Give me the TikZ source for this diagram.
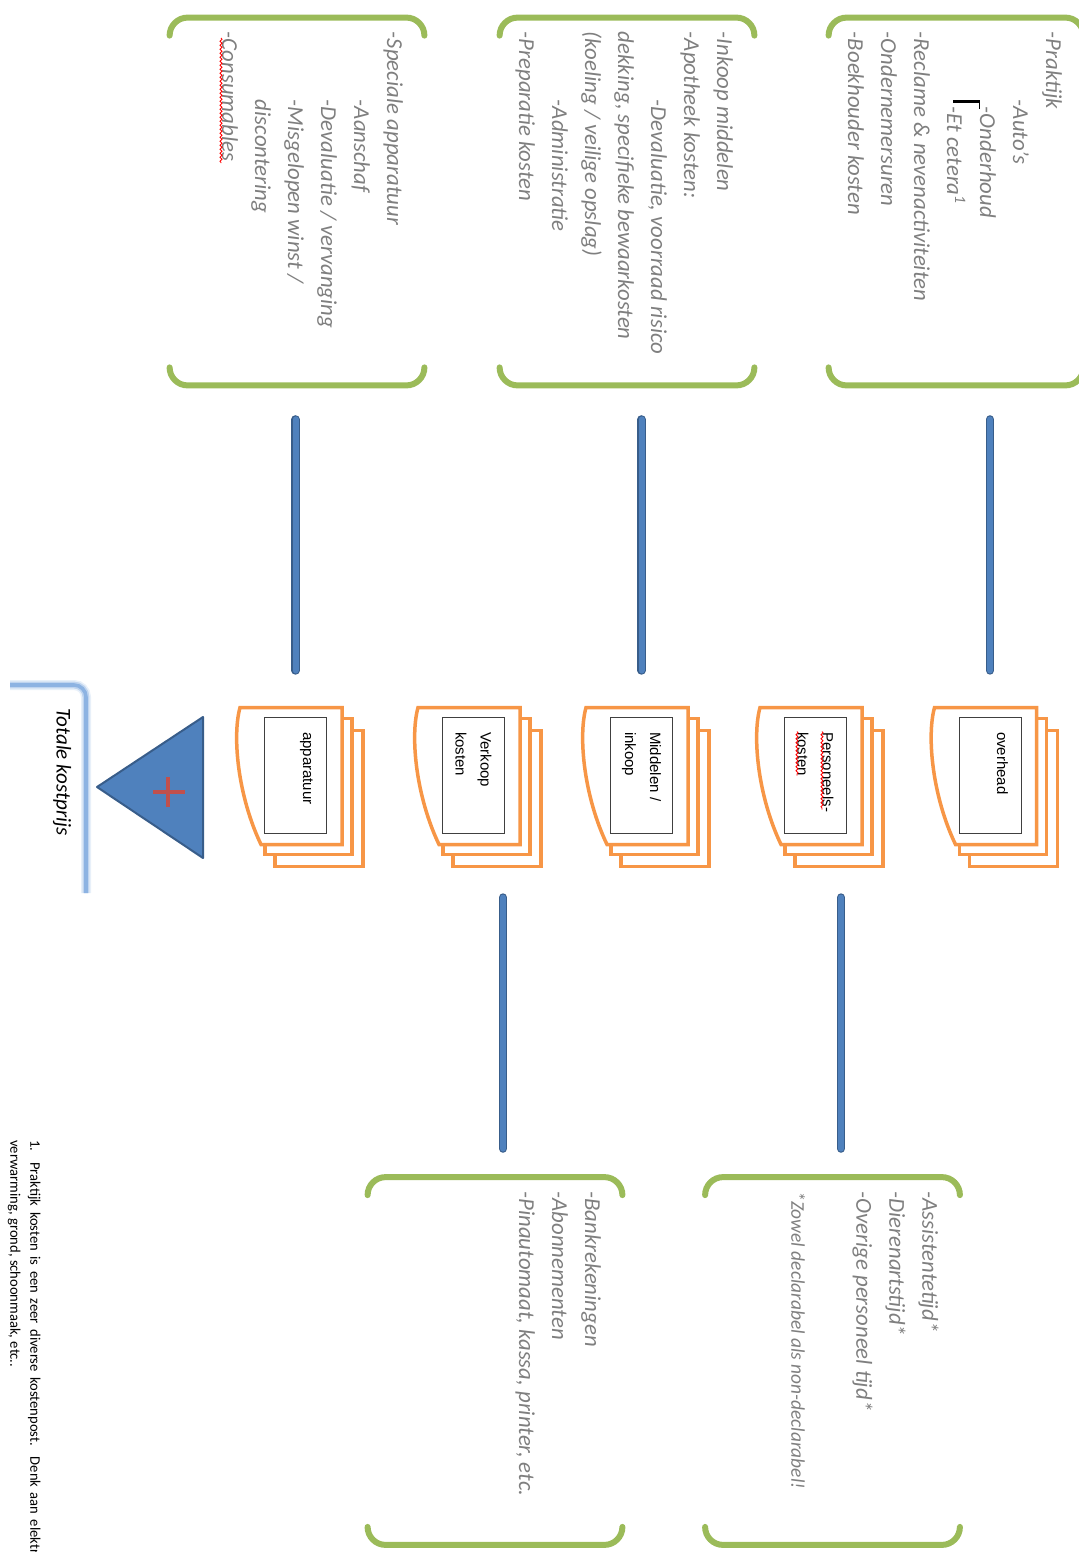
\documentclass[tikz,border=0pt]{standalone}
\usepackage{fontspec}
\setmainfont{Carlito}
\newfontfamily\arialfont{Liberation Sans}
\usetikzlibrary{positioning, calc, backgrounds, decorations.pathmorphing}
\definecolor{brkgreen}{HTML}{9BBB59}
\definecolor{docorange}{HTML}{F79646}
\definecolor{barblue}{HTML}{4F81BD}
\definecolor{bardark}{HTML}{385D8A}
\definecolor{plusred}{HTML}{C0504D}
\definecolor{notegray}{HTML}{7F7F7F}
\definecolor{glowblue}{HTML}{8DB3E2}

\newcommand{\ind}{\hspace*{34pt}}

% green bracket pair round a cost box
\newcommand{\brackets}[1]{%
  \draw[bracket] ($(#1.south west)+(18,0)$) arc[start angle=270, end angle=180, radius=9pt]
    -- ($(#1.north west)+(0,-18)$) arc[start angle=180, end angle=90, radius=9pt];
  \draw[bracket] ($(#1.south east)+(-18,0)$) arc[start angle=-90, end angle=0, radius=9pt]
    -- ($(#1.north east)+(0,-18)$) arc[start angle=0, end angle=90, radius=9pt];
}

% stacked pages behind a label
\newcommand{\docstack}[1]{%
  \begin{scope}[on background layer]
    \draw[page] ($(#1.south west)+(14,11)$) rectangle ($(#1.north east)+(33,36)$);
    \draw[page] ($(#1.south west)+(2,1)$) rectangle ($(#1.north east)+(21,25)$);
    \draw[page] ($(#1.south west)+(-9,-24)$) .. controls ($(#1.south west)+(20,-32)$) and ($(#1.south west)+(80,-26)$) .. ($(#1.south east)+(11,-3)$)
      -- ($(#1.north east)+(11,15)$) -- ($(#1.north west)+(-9,15)$) -- cycle;
  \end{scope}
}

\begin{document}
\begin{tikzpicture}[
    x=0.5pt, y=0.5pt,
    costbox/.style={rectangle, minimum width=183.5pt, minimum height=127pt, inner sep=0pt},
    bracket/.style={draw=brkgreen, line width=3pt, line cap=round},
    costtext/.style={anchor=north west, inner sep=0pt, align=left, text=notegray,
                     font=\fontsize{11.4}{16.5}\selectfont\itshape},
    doclabel/.style={draw=black!75, line width=0.5pt, fill=white, minimum width=58pt,
                     minimum height=31pt, text width=43pt, inner xsep=7.5pt, inner ysep=0pt,
                     align=left, font=\arialfont\fontsize{7.5}{12.5}\selectfont},
    page/.style={draw=docorange, line width=1.75pt, fill=white},
    bar/.style={draw=bardark, double=barblue, double distance=3pt, line width=0.6pt, line cap=round},
    merge/.style={fill=barblue, draw=bardark, line width=1pt, line join=round},
    plussign/.style={draw=plusred, line width=2pt},
    squiggle/.style={draw=red, line width=0.4pt, decorate,
                     decoration={snake, segment length=2pt, amplitude=0.5pt}},
    glowline/.style={draw=glowblue, line width=1.8pt, rounded corners=6pt,
                     preaction={draw=glowblue, line width=5pt, draw opacity=.2},
                     preaction={draw=glowblue, line width=3.4pt, draw opacity=.45}},
    total/.style={inner sep=0pt, font=\fontsize{10.5}{12}\selectfont\itshape},
    footnote/.style={anchor=north west, inner sep=0pt, align=left, font=\fontsize{7.3}{10}\selectfont}
]
\begin{scope}[rotate=-90, transform shape]
    \useasboundingbox (0,0) rectangle (1552,1079);

    % cost boxes
    \node[costbox] (boxA) at (201.5,956) {};
    \node[costbox] (boxB) at (201.5,627) {};
    \node[costbox] (boxC) at (201.5,297) {};
    \node[costbox] (boxD) at (1361,832.5) {};
    \node[costbox] (boxE) at (1361,495) {};
    \brackets{boxA} \brackets{boxB} \brackets{boxC} \brackets{boxD} \brackets{boxE}

    \node[costtext] (listA) at ($(boxA.north west)+(14,-21)$) {-Praktijk\\
        \ind -Auto’s\\ \ind\hspace*{3.5pt}-Onderhoud\\ \ind\hspace*{3.5pt}-Et cetera\textsuperscript{1}\\
        -Reclame \& nevenactiviteiten\\ -Ondernemersuren\\ -Boekhouder kosten};
    \node[costtext] (listB) at ($(boxB.north west)+(14,-21)$) {-Inkoop middelen\\
        -Apotheek kosten:\\ \ind -Devaluatie, voorraad risico\\ dekking, specifieke bewaarkosten\\
        (koeling / veilige opslag)\\ \ind -Administratie\\ -Preparatie kosten};
    \node[costtext] (listC) at ($(boxC.north west)+(14,-21)$) {-Speciale apparatuur\\
        \ind -Aanschaf\\ \ind -Devaluatie / vervanging\\ \ind -Misgelopen winst /\\
        \ind discontering\\ -Consumables};
    \node[costtext] (listD) at ($(boxD.north west)+(14,-21)$) {-Assistentetijd*\\
        -Dierenartstijd*\\ -Overige personeel tijd*\\[16pt]
        {\fontsize{9.7}{12}\selectfont *Zowel declarabel als non-declarabel!}};
    \node[costtext] (listE) at ($(boxE.north west)+(14,-21)$) {-Bankrekeningen\\
        -Abonnementen\\ -Pinautomaat, kassa, printer, etc.};
    \draw[line width=1.5pt] (102,953) -- (102,980);
    \draw[line width=0.5pt] (102,979) -- (109,979);
    \draw[squiggle] (38,221) -- (163,221);

    % cost categories
    \node[doclabel] (docA) at (775,990) {overhead\\~};
    \node[doclabel, below=55.75pt of docA] (docD) {Personeels-\\kosten};
    \node[doclabel, below=55.5pt of docD] (docB) {Middelen /\\inkoop};
    \node[doclabel, below=52.5pt of docB] (docE) {Verkoop\\kosten};
    \node[doclabel, below=57.5pt of docE] (docC) {apparatuur\\~};
    \docstack{docA} \docstack{docD} \docstack{docB} \docstack{docE} \docstack{docC}
    \draw[squiggle] ($(docD.north west)+(15,-25)$) -- +(78,0);
    \draw[squiggle] ($(docD.north west)+(15,-50)$) -- +(44,0);

    \draw[bar, shorten <=17pt, shorten >=23pt] (boxA.east |- docA) -- (docA.west);
    \draw[bar, shorten <=17pt, shorten >=23pt] (boxB.east |- docB) -- (docB.west);
    \draw[bar, shorten <=17pt, shorten >=23pt] (boxC.east |- docC) -- (docC.west);
    \draw[bar, shorten <=32pt, shorten >=14.25pt] ($(boxD.west)+(0,8.5)$) coordinate (dEnd)
        (docD.east |- dEnd) -- (dEnd);
    \draw[bar, shorten <=32pt, shorten >=14.25pt] ($(boxE.west)+(0,8)$) coordinate (eEnd)
        (docE.east |- eEnd) -- (eEnd);

    % sum
    \draw[merge] (717,203) -- (858,203) -- (787,97) -- cycle;
    \draw[plussign] (777,168) -- (807,168) (792,153) -- (792,185);
    \node[total, anchor=west] (total) at (708,62) {Totale kostprijs};
    \draw[glowline] ($(total.west)+(185,24)$) -| ($(total.west)+(-23,-52)$);

    \node[footnote] (note) at (1140,41) {\makebox[207pt][s]{1. Praktijk kosten is een zeer diverse kostenpost. Denk aan elektr}\\
        verwarming, grond, schoonmaak, etc..};
\end{scope}
\end{tikzpicture}
\end{document}
